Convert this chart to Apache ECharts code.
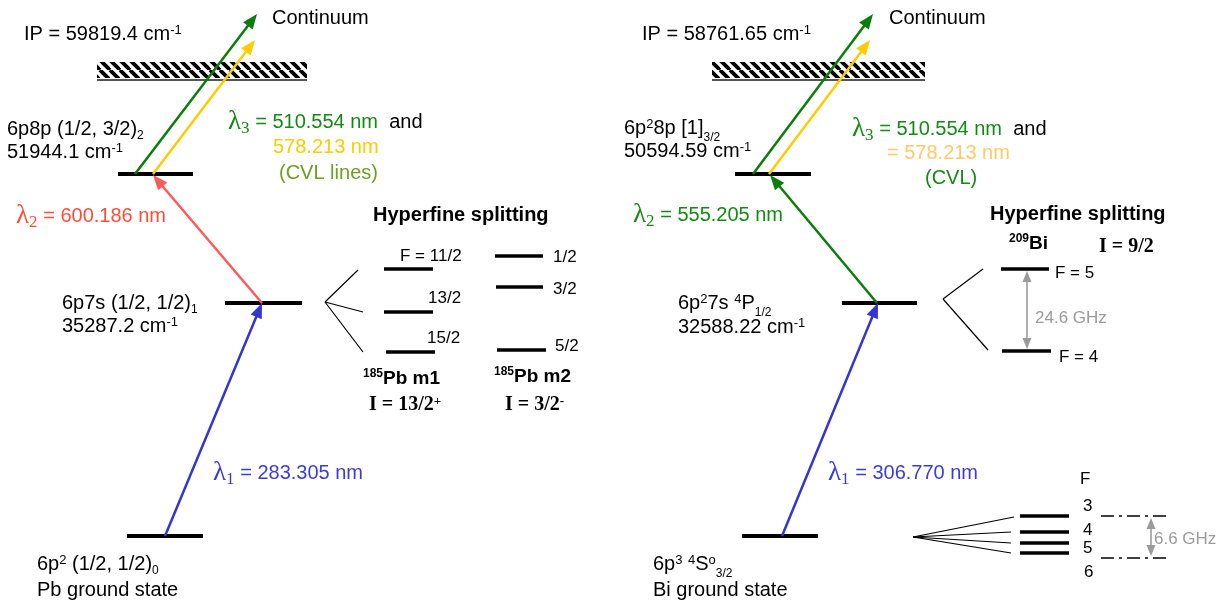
<!DOCTYPE html>
<html>
<head>
<meta charset="utf-8">
<script src="https://cdn.jsdelivr.net/npm/echarts@6/dist/echarts.min.js"></script>
<style>
  html, body { margin: 0; padding: 0; background: #fff; }
  #chart { width: 1227px; height: 603px; }
</style>
</head>
<body>
<div id="chart"></div>
<script>
// ---- Spectroscopic values shown on the two excitation schemes ----
const ipValues = ['59819.4', '58761.65'];               // ionisation potentials, cm-1 (Pb, Bi)
const pbEnergies = ['35287.2', '51944.1'];              // Pb excited levels, cm-1
const biEnergies = ['32588.22', '50594.59'];            // Bi excited levels, cm-1
const pbWavelengths = ['283.305', '600.186', '510.554', '578.213']; // nm
const biWavelengths = ['306.770', '555.205', '510.554', '578.213']; // nm
const pbM1F = ['11/2', '13/2', '15/2'];
const pbM2F = ['1/2', '3/2', '5/2'];
const biUpperF = ['5', '4'];
const biGroundF = ['3', '4', '5', '6'];
const splittings = ['24.6 GHz', '6.6 GHz'];
const nuclearSpins = ['13/2', '3/2', '9/2'];

// ---- Schematic layout (diagram units, y grows downwards) ----
const W = 1227, H = 603;
// energy level bars: [xStart, xEnd, y]
const mainLevelBars = [
  [127, 203, 536], [225, 302, 303], [118, 193, 174],
  [742, 818, 536], [842, 917, 303], [735, 811, 174]
];
const hfLevelBars = [
  [384, 433, 269], [384, 433, 312], [386, 435, 352],
  [495, 543, 256], [496, 543, 287], [497, 546, 350],
  [1001, 1049, 269], [1002, 1051, 351],
  [1020, 1069, 516], [1020, 1069, 532], [1020, 1069, 543], [1020, 1069, 553]
];
// laser steps: [x0, y0, x1, y1] (arrow points to x1, y1)
const pbSteps = [[165, 536, 262, 303], [262, 303, 153, 175], [135, 174, 257, 14], [153, 174, 255, 40]];
const biSteps = [[782, 536, 878, 303], [877, 303, 770, 175], [753, 174, 873, 14], [769, 174, 870, 40]];
// continuum bands: [x0, y0, x1, y1]
const continuumBands = [[97, 62, 307, 78], [712, 62, 925, 78]];
// fan lines from a level to its hyperfine components
const fanLines = [
  [325, 302, 358, 270], [325, 302, 363, 312], [325, 302, 363, 352],
  [943, 299, 983, 269], [943, 299, 988, 350],
  [913, 537, 1014, 517], [913, 537, 1011, 532], [913, 537, 1011, 543], [913, 537, 1011, 553]
];
const spanArrows = [[1027, 271, 1027, 349], [1151, 518, 1151, 556]];
const guideLines = [[1101, 516, 1166, 516], [1101, 558, 1166, 558]];

// ---- Colours and text styles ----
const SANS = '"Liberation Sans", Arial, sans-serif';
const SERIF = '"Liberation Serif", "Times New Roman", serif';
const COLORS = {
  k: '#000000', g: '#148a14', y: '#ffcc00', r: '#ff4d36', b: '#3c3cd4',
  o: '#6e9f22', lo: '#ffc966', gr: '#9b9b9b'
};
const ARROW = { g: '#0b7d0b', y: '#ffcc00', r: '#ff5a5a', b: '#3535cf', gr: '#9b9b9b' };
const SHAPES = {
  t:    { fontFamily: SANS, fontSize: 20 },
  s:    { fontFamily: SANS, fontSize: 17 },
  sup:  { fontFamily: SANS, fontSize: 13, height: 19, verticalAlign: 'top' },
  sub:  { fontFamily: SANS, fontSize: 12, height: 12, verticalAlign: 'bottom' },
  subL: { fontFamily: SANS, fontSize: 12, height: 6, verticalAlign: 'bottom' },
  tb:   { fontFamily: SANS, fontSize: 20, fontWeight: 'bold' },
  ib:   { fontFamily: SANS, fontSize: 19, fontWeight: 'bold' },
  supb: { fontFamily: SANS, fontSize: 12, fontWeight: 'bold', height: 16, verticalAlign: 'top' },
  rb:   { fontFamily: SERIF, fontSize: 20, fontWeight: 'bold' },
  rsup: { fontFamily: SERIF, fontSize: 13, fontWeight: 'bold', height: 19, verticalAlign: 'top' },
  lam:  { fontFamily: SERIF, fontSize: 27 },
  lsub: { fontFamily: SERIF, fontSize: 17, height: 12, verticalAlign: 'bottom' }
};
const RICH = {};
Object.keys(SHAPES).forEach(function (s) {
  Object.keys(COLORS).forEach(function (c) {
    RICH[s + '_' + c] = Object.assign({ fill: COLORS[c] }, SHAPES[s]);
  });
});

function lambda(idx, value, c) {
  return '{lam_' + c + '|λ}{lsub_' + c + '|' + idx + '}{t_' + c + '| = ' + value + ' nm}';
}

// ---- Text labels: [x, y, rich text] ----
const labels = [
  // Pb scheme
  [272, 18, '{t_k|Continuum}'],
  [24, 34, '{t_k|IP = ' + ipValues[0] + ' cm}{sup_k|-1}'],
  [7, 129, '{t_k|6p8p (1/2, 3/2)}{sub_k|2}'],
  [7, 152, '{t_k|' + pbEnergies[1] + ' cm}{sup_k|-1}'],
  [228, 122, lambda(3, pbWavelengths[2], 'g') + '{t_k|  and}'],
  [273, 147, '{t_y|' + pbWavelengths[3] + ' nm}'],
  [279, 173, '{t_o|(CVL lines)}'],
  [16, 216, lambda(2, pbWavelengths[1], 'r')],
  [62, 303, '{t_k|6p7s (1/2, 1/2)}{sub_k|1}'],
  [62, 326, '{t_k|' + pbEnergies[0] + ' cm}{sup_k|-1}'],
  [37, 564, '{t_k|6p}{sup_k|2}{t_k| (1/2, 1/2)}{sub_k|0}'],
  [37, 590, '{t_k|Pb ground state}'],
  [213, 473, lambda(1, pbWavelengths[0], 'b')],
  [373, 215, '{tb_k|Hyperfine splitting}'],
  [400, 256, '{s_k|F = ' + pbM1F[0] + '}'],
  [428, 298, '{s_k|' + pbM1F[1] + '}'],
  [427, 338, '{s_k|' + pbM1F[2] + '}'],
  [553, 257, '{s_k|' + pbM2F[0] + '}'],
  [553, 289, '{s_k|' + pbM2F[1] + '}'],
  [555, 346, '{s_k|' + pbM2F[2] + '}'],
  [363, 379, '{supb_k|185}{ib_k|Pb m1}'],
  [494, 377, '{supb_k|185}{ib_k|Pb m2}'],
  [369, 405, '{rb_k|I = ' + nuclearSpins[0] + '}{rsup_k|+}'],
  [505, 405, '{rb_k|I = ' + nuclearSpins[1] + '}{rsup_k|-}'],
  // Bi scheme
  [889, 18, '{t_k|Continuum}'],
  [642, 34, '{t_k|IP = ' + ipValues[1] + ' cm}{sup_k|-1}'],
  [624, 128, '{t_k|6p}{sup_k|2}{t_k|8p [1]}{subL_k|3/2}'],
  [624, 151, '{t_k|' + biEnergies[1] + ' cm}{sup_k|-1}'],
  [852, 129, lambda(3, biWavelengths[2], 'g') + '{t_k|  and}'],
  [887, 153, '{t_lo|= ' + biWavelengths[3] + ' nm}'],
  [925, 178, '{t_g|(CVL)}'],
  [633, 215, lambda(2, biWavelengths[1], 'g')],
  [678, 303, '{t_k|6p}{sup_k|2}{t_k|7s }{sup_k|4}{t_k|P}{subL_k|1/2}'],
  [678, 327, '{t_k|' + biEnergies[0] + ' cm}{sup_k|-1}'],
  [653, 564, '{t_k|6p}{sup_k|3}{t_k| }{sup_k|4}{t_k|S}{sup_k|o}{subL_k|3/2}'],
  [653, 590, '{t_k|Bi ground state}'],
  [828, 473, lambda(1, biWavelengths[0], 'b')],
  [990, 214, '{tb_k|Hyperfine splitting}'],
  [1009, 244, '{supb_k|209}{ib_k|Bi}'],
  [1099, 247, '{rb_k|I = ' + nuclearSpins[2] + '}'],
  [1055, 273, '{s_k|F = ' + biUpperF[0] + '}'],
  [1059, 357, '{s_k|F = ' + biUpperF[1] + '}'],
  [1035, 318, '{s_gr|' + splittings[0] + '}'],
  [1080, 479, '{s_k|F}'],
  [1083, 506, '{s_k|' + biGroundF[0] + '}'],
  [1083, 530, '{s_k|' + biGroundF[1] + '}'],
  [1083, 548, '{s_k|' + biGroundF[2] + '}'],
  [1084, 572, '{s_k|' + biGroundF[3] + '}'],
  [1154, 539, '{s_gr|' + splittings[1] + '}']
];

// ---- Rendering helpers ----
function hatchPattern() {
  const P = 10;
  const c = document.createElement('canvas');
  c.width = P; c.height = P;
  const ctx = c.getContext('2d');
  ctx.fillStyle = '#fff';
  ctx.fillRect(0, 0, P, P);
  ctx.strokeStyle = '#000';
  ctx.lineWidth = 3.8;
  for (let k = -1; k <= 1; k++) {
    ctx.beginPath();
    ctx.moveTo(k * P, 0);
    ctx.lineTo(k * P + P, P);
    ctx.stroke();
  }
  return c;
}
const HATCH = { image: hatchPattern(), repeat: 'repeat' };

function headPoints(tip, u, L, w) {
  const bx = tip[0] - u[0] * L, by = tip[1] - u[1] * L;
  const nx = -u[1], ny = u[0];
  return [[tip[0], tip[1]], [bx + nx * w, by + ny * w], [bx - nx * w, by - ny * w]];
}

function segmentRenderer(width, dash) {
  return function (params, api) {
    const a = api.coord([api.value(0), api.value(1)]);
    const b = api.coord([api.value(2), api.value(3)]);
    return {
      type: 'line',
      shape: { x1: a[0], y1: a[1], x2: b[0], y2: b[1] },
      style: { stroke: api.visual('color'), lineWidth: width, lineDash: dash || null }
    };
  };
}

function renderBar(width) {
  return function (params, api) {
    const a = api.coord([api.value(0), api.value(2)]);
    const b = api.coord([api.value(1), api.value(2)]);
    return {
      type: 'line',
      shape: { x1: a[0], y1: a[1], x2: b[0], y2: b[1] },
      style: { stroke: '#000', lineWidth: width }
    };
  };
}

function renderArrow(params, api) {
  const a = api.coord([api.value(0), api.value(1)]);
  const b = api.coord([api.value(2), api.value(3)]);
  const color = api.visual('color');
  const dx = b[0] - a[0], dy = b[1] - a[1], len = Math.hypot(dx, dy);
  const u = [dx / len, dy / len];
  const L = 15, w = 6;
  return {
    type: 'group',
    children: [
      { type: 'line', shape: { x1: a[0], y1: a[1], x2: b[0] - u[0] * L * 0.7, y2: b[1] - u[1] * L * 0.7 },
        style: { stroke: color, lineWidth: 2.5 } },
      { type: 'polygon', shape: { points: headPoints(b, u, L, w) }, style: { fill: color } }
    ]
  };
}

function renderSpan(params, api) {
  const a = api.coord([api.value(0), api.value(1)]);
  const b = api.coord([api.value(2), api.value(3)]);
  const color = api.visual('color');
  const dx = b[0] - a[0], dy = b[1] - a[1], len = Math.hypot(dx, dy);
  const u = [dx / len, dy / len], v = [-u[0], -u[1]];
  const L = 11, w = 4.5;
  return {
    type: 'group',
    children: [
      { type: 'line', shape: { x1: a[0] + u[0] * 6, y1: a[1] + u[1] * 6, x2: b[0] - u[0] * 6, y2: b[1] - u[1] * 6 },
        style: { stroke: color, lineWidth: 1.6 } },
      { type: 'polygon', shape: { points: headPoints(b, u, L, w) }, style: { fill: color } },
      { type: 'polygon', shape: { points: headPoints(a, v, L, w) }, style: { fill: color } }
    ]
  };
}

function renderBand(params, api) {
  const a = api.coord([api.value(0), api.value(1)]);
  const b = api.coord([api.value(2), api.value(3)]);
  return {
    type: 'group',
    children: [
      { type: 'rect', shape: { x: a[0], y: a[1], width: b[0] - a[0], height: b[1] - a[1] },
        style: { fill: HATCH } },
      { type: 'line', shape: { x1: a[0], y1: b[1] + 2, x2: b[0], y2: b[1] + 2 },
        style: { stroke: '#555', lineWidth: 2 } }
    ]
  };
}

function renderLabel(params, api) {
  const p = api.coord([api.value(0), api.value(1)]);
  return {
    type: 'text',
    x: p[0], y: p[1],
    style: {
      text: labels[params.dataIndex][2],
      rich: RICH,
      fontFamily: SANS, fontSize: 20, fill: '#000',
      lineHeight: 26, align: 'left', verticalAlign: 'middle'
    }
  };
}

function colored(list, colors) {
  return list.map(function (d, i) { return { value: d, itemStyle: { color: colors[i] } }; });
}

const chart = echarts.init(document.getElementById('chart'), null, { renderer: 'canvas' });
chart.setOption({
  animation: false,
  backgroundColor: '#ffffff',
  grid: { left: 0, right: 0, top: 0, bottom: 0 },
  xAxis: { type: 'value', min: 0, max: W, show: false },
  yAxis: { type: 'value', min: 0, max: H, inverse: true, show: false },
  series: [
    { name: 'continuum', type: 'custom', silent: true, renderItem: renderBand, data: continuumBands },
    { name: 'fan', type: 'custom', silent: true, renderItem: segmentRenderer(1.2),
      itemStyle: { color: '#000' }, data: fanLines },
    { name: 'guides', type: 'custom', silent: true, renderItem: segmentRenderer(1.6, [13, 5, 3, 5]),
      itemStyle: { color: '#000' }, data: guideLines },
    { name: 'levels', type: 'custom', silent: true, renderItem: renderBar(4), data: mainLevelBars },
    { name: 'hyperfine', type: 'custom', silent: true, renderItem: renderBar(3.5), data: hfLevelBars },
    { name: 'steps', type: 'custom', silent: true, renderItem: renderArrow,
      data: colored(pbSteps, [ARROW.b, ARROW.r, ARROW.g, ARROW.y])
        .concat(colored(biSteps, [ARROW.b, ARROW.g, ARROW.g, ARROW.y])) },
    { name: 'spans', type: 'custom', silent: true, renderItem: renderSpan,
      itemStyle: { color: ARROW.gr }, data: spanArrows },
    { name: 'labels', type: 'custom', silent: true, renderItem: renderLabel,
      data: labels.map(function (l) { return [l[0], l[1]]; }) }
  ]
});
</script>
</body>
</html>
